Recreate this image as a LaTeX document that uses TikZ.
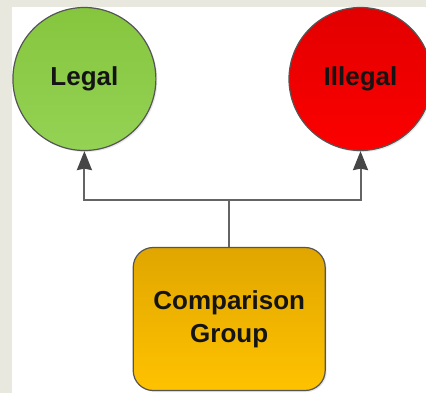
\documentclass[tikz,border=0pt]{standalone}
\usepackage{fontspec}
\setmainfont{Liberation Sans}
\usetikzlibrary{arrows.meta,shadows}
\definecolor{beige}{RGB}{233,232,222}
\definecolor{greentop}{RGB}{134,198,62}
\definecolor{greenbot}{RGB}{148,210,84}
\definecolor{redtop}{RGB}{226,0,0}
\definecolor{redbot}{RGB}{252,0,0}
\definecolor{boxtop}{RGB}{224,166,0}
\definecolor{boxbot}{RGB}{255,194,0}
\definecolor{edgegray}{RGB}{85,85,85}
\definecolor{linegray}{RGB}{100,100,100}
\definecolor{tipgray}{RGB}{70,70,70}
\tikzset{
  lbl/.style={font=\fontsize{26}{33}\selectfont\bfseries, text=black!92, align=center},
  circ/.style={circle, draw=edgegray, line width=1.2pt, minimum size=143pt, inner sep=0pt, lbl,
    drop shadow={opacity=0.18, shadow xshift=1.5pt, shadow yshift=-1.5pt}},
  cbox/.style={rectangle, rounded corners=20pt, draw=edgegray, line width=1.2pt,
    minimum width=192pt, minimum height=143pt, inner sep=0pt, lbl,
    top color=boxtop, bottom color=boxbot,
    drop shadow={opacity=0.18, shadow xshift=1.5pt, shadow yshift=-1.5pt}},
  conn/.style={draw=linegray, line width=2pt},
  arr/.style={conn, -{Stealth[inset=1.5pt, width=15pt, length=19pt, color=tipgray]}},
}
\begin{document}
\begin{tikzpicture}[x=1pt,y=-1pt]
\useasboundingbox (0,0) rectangle (426,393);
\clip (0,0) rectangle (426,393);
\fill[white] (0,0) rectangle (426,393);
\fill[beige] (0,0) rectangle (12,393);
\fill[beige] (0,0) rectangle (426,7);
\node[circ, top color=greentop, bottom color=greenbot] (legal) at (84.4,79) {Legal};
\node[circ, top color=redtop, bottom color=redbot] (illegal) at (360.5,79) {Illegal};
\node[cbox] (cg) at (229.2,319) {Comparison\\Group};
\coordinate (j) at (229.2,200);
\draw[conn] (cg.north) -- (j);
\draw[arr] (j) -| (legal.south);
\draw[arr] (j) -| (illegal.south);
\end{tikzpicture}
\end{document}
